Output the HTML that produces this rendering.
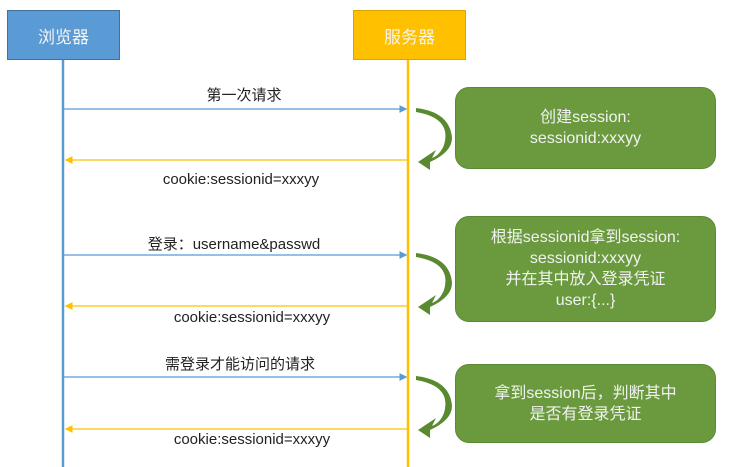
<!DOCTYPE html>
<html><head><meta charset="utf-8"><style>
body{margin:0;background:#fff;font-family:"Liberation Sans","Noto Sans CJK SC",sans-serif;}
.w{position:relative;width:739px;height:467px;overflow:hidden;}
.box{position:absolute;color:#f4f4f4;font-size:17px;display:flex;align-items:center;justify-content:center;box-sizing:border-box;}
.g{position:absolute;left:455px;width:261px;background:#6a9a3d;border:1px solid #5a8a34;border-radius:14px;color:#f2f2f2;font-size:16px;line-height:21px;text-align:center;display:flex;align-items:center;justify-content:center;box-sizing:border-box;}
.t{position:absolute;font-size:15px;color:#222;white-space:nowrap;transform:translateX(-50%);}
</style></head><body><div class="w">
<div class="box" style="left:7px;top:10px;width:113px;height:50px;background:#5b9bd5;border:1px solid #41719c;">浏览器</div>
<div class="box" style="left:353px;top:10px;width:113px;height:50px;background:#ffc000;border:1px solid #d9a300;">服务器</div>
<svg width="739" height="467" style="position:absolute;left:0;top:0">
<defs>
<marker id="ab" markerWidth="6" markerHeight="6" refX="5" refY="3" orient="auto"><path d="M0,0L6,3L0,6z" fill="#5b9bd5"/></marker>
<marker id="ay" markerWidth="6" markerHeight="6" refX="5" refY="3" orient="auto"><path d="M0,0L6,3L0,6z" fill="#ffc000"/></marker>
</defs>
<line x1="63" y1="60" x2="63" y2="467" stroke="#5b9bd5" stroke-width="2.5"/>
<line x1="408" y1="60" x2="408" y2="467" stroke="#ffc000" stroke-width="2.5"/>
<g stroke-width="1.3" fill="none">
<line x1="64" y1="109" x2="406" y2="109" stroke="#5b9bd5" marker-end="url(#ab)"/>
<line x1="407" y1="160" x2="66" y2="160" stroke="#ffc000" marker-end="url(#ay)"/>
<line x1="64" y1="255" x2="406" y2="255" stroke="#5b9bd5" marker-end="url(#ab)"/>
<line x1="407" y1="306" x2="66" y2="306" stroke="#ffc000" marker-end="url(#ay)"/>
<line x1="64" y1="377" x2="406" y2="377" stroke="#5b9bd5" marker-end="url(#ab)"/>
<line x1="407" y1="429" x2="66" y2="429" stroke="#ffc000" marker-end="url(#ay)"/>
</g>
<g fill="#5a8a30">
<path d="M416,112 Q452,118 444,145 Q440,155 432,158 L436,150 L418,162 L430,170 L430,162 Q452,152 452,138 Q450,112 416,108z"/>
<path d="M416,257 Q452,263 444,290 Q440,300 432,303 L436,295 L418,307 L430,315 L430,307 Q452,297 452,283 Q450,257 416,253z"/>
<path d="M416,380 Q452,386 444,413 Q440,423 432,426 L436,418 L418,430 L430,438 L430,430 Q452,420 452,406 Q450,380 416,376z"/>
</g>
</svg>
<div class="t" style="left:244px;top:84px">第一次请求</div>
<div class="t" style="left:241px;top:171px">cookie:sessionid=xxxyy</div>
<div class="t" style="left:234px;top:233px">登录：username&amp;passwd</div>
<div class="t" style="left:252px;top:309px">cookie:sessionid=xxxyy</div>
<div class="t" style="left:240px;top:353px">需登录才能访问的请求</div>
<div class="t" style="left:252px;top:431px">cookie:sessionid=xxxyy</div>
<div class="g" style="top:87px;height:82px">创建session:<br>sessionid:xxxyy</div>
<div class="g" style="top:216px;height:106px">根据sessionid拿到session:<br>sessionid:xxxyy<br>并在其中放入登录凭证<br>user:{...}</div>
<div class="g" style="top:364px;height:79px">拿到session后，判断其中<br>是否有登录凭证</div>
</div></body></html>
